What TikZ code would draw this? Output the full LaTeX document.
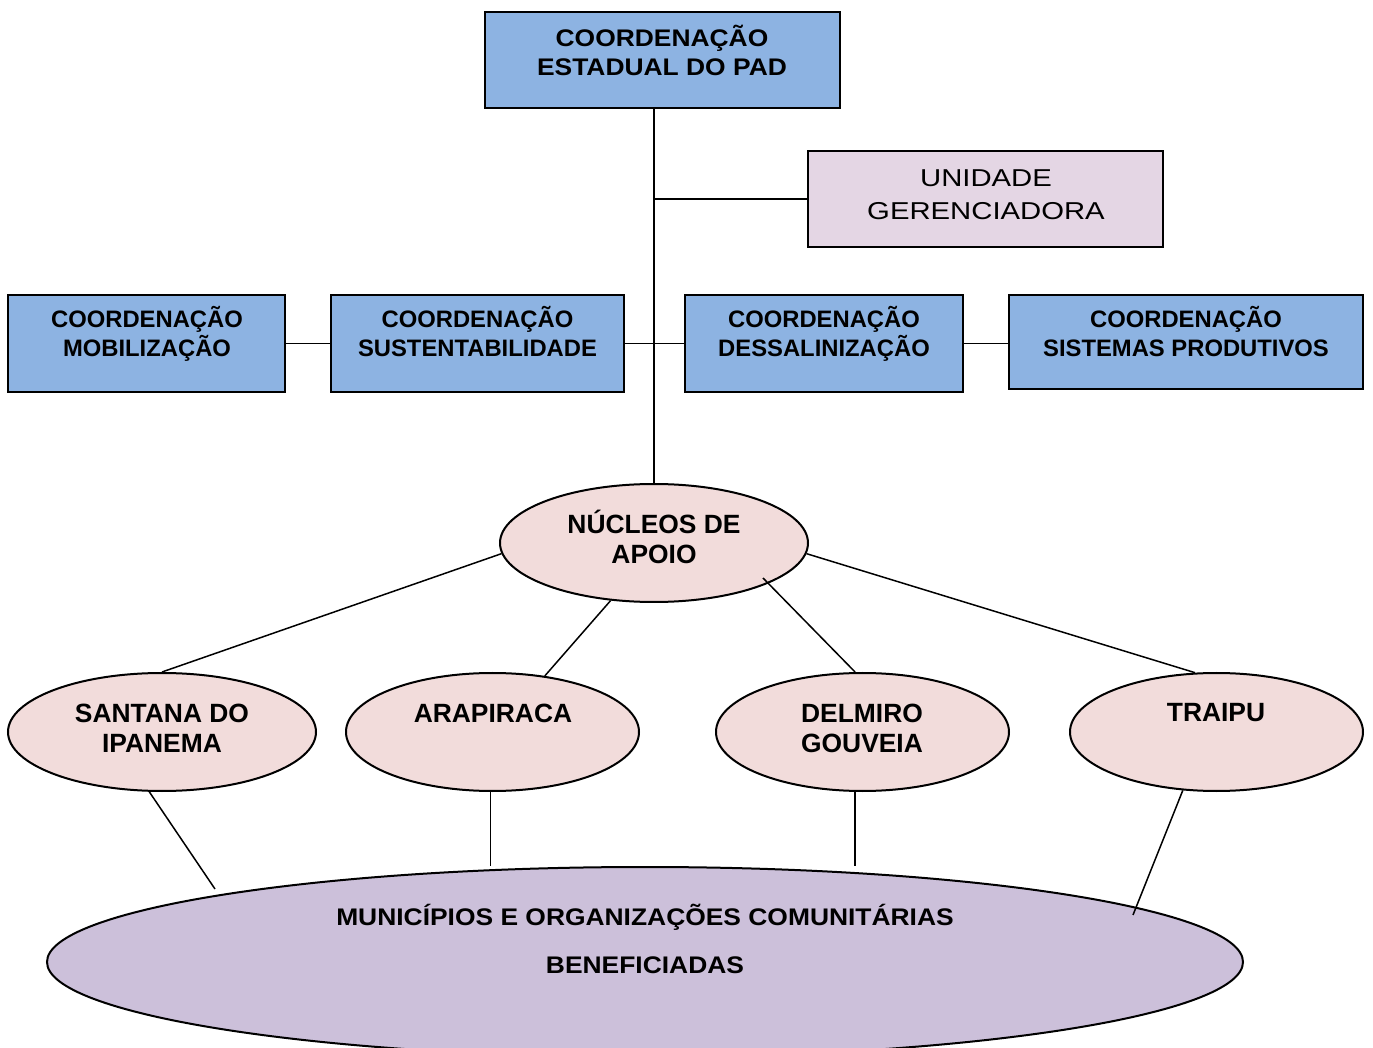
\documentclass[tikz,border=0pt]{standalone}
\usepackage{fontspec}
\setmainfont{Liberation Sans}
\newfontfamily\widefont[FakeStretch=1.1]{Liberation Sans}
\newfontfamily\unifont[FakeStretch=1.2]{Liberation Sans}
\usetikzlibrary{shapes.geometric}
\definecolor{boxblue}{RGB}{141,179,226}
\definecolor{unililac}{RGB}{228,214,228}
\definecolor{nucpink}{RGB}{242,220,219}
\definecolor{botlilac}{RGB}{204,192,218}
\begin{document}
\begin{tikzpicture}[x=0.5pt,y=-0.5pt,
  boxshape/.style={draw=black, line width=1pt, rectangle, inner sep=0pt},
  bluebox/.style={boxshape, fill=boxblue},
  ellshape/.style={draw=black, line width=1pt, ellipse, inner sep=0pt, fill=nucpink},
  link/.style={draw=black, line width=0.75pt},
  toptxt/.style={align=center, inner sep=0pt, font={\widefont\bfseries\fontsize{12}{14.5}\selectfont}},
  unitxt/.style={align=center, inner sep=0pt, font={\unifont\fontsize{12.2}{16.5}\selectfont}},
  coordtxt/.style={align=center, inner sep=0pt, font={\bfseries\fontsize{11.9}{14.5}\selectfont}},
  elltxt/.style={align=center, inner sep=0pt, font={\bfseries\fontsize{13.2}{15}\selectfont}},
  bottxt/.style={align=center, inner sep=0pt, font={\widefont\bfseries\fontsize{12}{24}\selectfont}}
]
\useasboundingbox (0,0) rectangle (1373,1048);
\clip (0,0) rectangle (1373,1048);

% shapes
\node[bluebox, minimum width=177.5pt, minimum height=48pt] (top) at (662.5,60) {};
\node[boxshape, fill=unililac, minimum width=177.5pt, minimum height=48pt] (uni) at (985.5,199) {};
\node[bluebox, minimum width=138.5pt, minimum height=48.5pt] (mob) at (146.5,343.5) {};
\node[bluebox, minimum width=146.5pt, minimum height=48.5pt] (sust) at (477.5,343.5) {};
\node[bluebox, minimum width=139pt, minimum height=48.5pt] (dess) at (824,343.5) {};
\node[bluebox, minimum width=177pt, minimum height=47pt] (sist) at (1186,342) {};

\node[ellshape, minimum width=154pt, minimum height=59pt] (nuc) at (654,543) {};
\node[ellshape, minimum width=154pt, minimum height=59pt] (sant) at (162,732) {};
\node[ellshape, minimum width=146.5pt, minimum height=59pt] (arap) at (492.5,732) {};
\node[ellshape, minimum width=146.5pt, minimum height=59pt] (delm) at (862.5,732) {};
\node[ellshape, minimum width=146.5pt, minimum height=59pt] (trai) at (1216.5,732) {};
\node[ellshape, fill=botlilac, minimum width=598pt, minimum height=95pt] (bot) at (645,962) {};

% texts
\node[toptxt] (top-t) at (662,50) {COORDENAÇÃO\\ESTADUAL DO PAD};
\node[unitxt] (uni-t) at (986,195) {UNIDADE\\GERENCIADORA};
\node[coordtxt] (mob-t) at (147,334) {COORDENAÇÃO\\MOBILIZAÇÃO};
\node[coordtxt] (sust-t) at (477.5,331.5) {COORDENAÇÃO\\SUSTENTABILIDADE};
\node[coordtxt] (dess-t) at (824,334) {COORDENAÇÃO\\DESSALINIZAÇÃO};
\node[coordtxt] (sist-t) at (1186,331.5) {COORDENAÇÃO\\SISTEMAS PRODUTIVOS};
\node[elltxt] (nuc-t) at (654,537) {NÚCLEOS DE\\APOIO};
\node[elltxt] (sant-t) at (162,728) {SANTANA DO\\IPANEMA};
\node[elltxt] (arap-t) at (493,713) {ARAPIRACA};
\node[elltxt] (delm-t) at (862,728) {DELMIRO\\GOUVEIA};
\node[elltxt] (trai-t) at (1216,713) {TRAIPU};
\node[bottxt] (bot-t) at (645,939) {MUNICÍPIOS E ORGANIZAÇÕES COMUNITÁRIAS\\BENEFICIADAS};

% connectors
\draw[link] (top.south -| nuc.north) -- (nuc.north);
\draw[link] (uni.west) -- (uni.west -| nuc.north);
\draw[link] (mob.east) -- (sust.west);
\draw[link] (sust.east) -- (dess.west);
\draw[link] (dess.east) -- (dess.east -| sist.west);

\coordinate (nucin) at (763,578);
\draw[link] (nuc.184) -- (sant.north);
\draw[link] (nuc.233) -- (arap.47);
\draw[link] (nucin) -- (delm.97);
\draw[link] (nuc.-4) -- (trai.110);

\coordinate (botL) at (215,889);
\coordinate (botR) at (1133,915);
\draw[link] (sant.258) -- (botL);
\draw[link] (arap.268) -- (arap.268 |- bot.north);
\draw[link] (delm.263) -- (delm.263 |- bot.north);
\draw[link] (trai.240) -- (botR);
\end{tikzpicture}
\end{document}
